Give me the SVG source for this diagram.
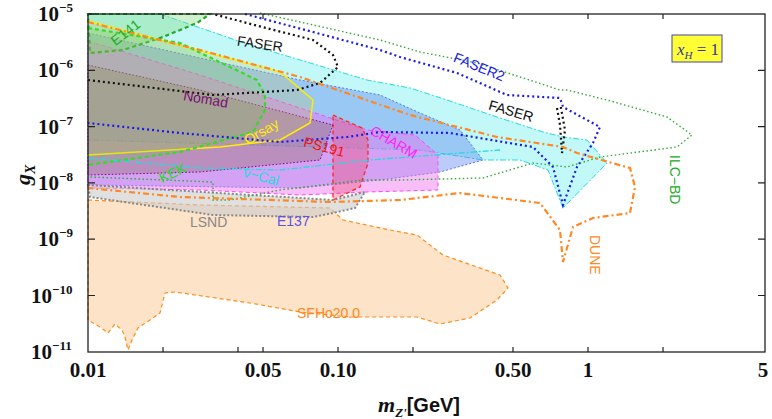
<svg xmlns="http://www.w3.org/2000/svg" width="772" height="419" viewBox="0 0 772 419">
<style>
.tk{font-family:"Liberation Serif",serif;font-weight:bold;font-size:21px;fill:#111}
.sp{font-size:13px}
.lb{font-family:"Liberation Sans",Arial,sans-serif;font-size:14px}
.ln{fill:none;stroke-width:2.2}
.dot{stroke-dasharray:2 3}
.dash{stroke-dasharray:5 3}
.dd{stroke-dasharray:6 3 2 3}
</style>
<rect width="772" height="419" fill="#fff"/>
<g id="regions">
<path id="sfho" d="M88,200 L200,205 330,208 343,220 390,230 417,235 443,255 500,275 508,288 497,300 470,318 440,324 417,317 350,317 300,312 250,303 175,292 165,293 160,313 150,320 138,328 132,340 128,350 125,337 122,330 115,324 108,333 100,327 88,320 Z" fill="#fde3c8" stroke="#ff8c1a" stroke-width="1.2" stroke-dasharray="4 3"/>
<path id="cyan" d="M88,14 L160,14 250,45 367,80 410,88 447,100 497,117 543,132 563,137 587,140 607,163 563,208 548,170 520,160 483,160 420,150 88,140 Z" fill="#aef5f5" fill-opacity="0.75" stroke="#22dddd" stroke-width="1" stroke-dasharray="6 2 2 2"/>
<path id="blue" d="M88,33 L200,58 300,80 380,95 420,113 460,130 483,160 440,172 380,180 300,188 88,185 Z" fill="#6a8ff0" fill-opacity="0.45" stroke="#5577ee" stroke-width="1" stroke-dasharray="2 2"/>
<path id="charm" d="M88,41 L200,75 300,108 367,130 415,135 438,155 438,190 367,192 300,195 200,190 88,188 Z" fill="#f06ef0" fill-opacity="0.45" stroke="#ff44ff" stroke-width="1" stroke-dasharray="4 3"/>
<path id="ps191" d="M333,115 L362,128 368,140 368,163 360,187 333,200 Z" fill="#ee4466" fill-opacity="0.35" stroke="#ff2222" stroke-width="1.3" stroke-dasharray="4 3"/>
<path id="lsnd" d="M88,185 L333,200 365,192 355,208 333,213 313,217 213,215 90,197 Z" fill="#cccccc" fill-opacity="0.6" stroke="#888" stroke-width="2" stroke-dasharray="2 2"/>
<path id="nomad" d="M88,65 L200,90 333,125 320,160 200,172 88,175 Z" fill="#806040" fill-opacity="0.3" stroke="#880088" stroke-width="1" stroke-dasharray="1.5 2"/>
<path id="e141" d="M88,14 L210,14 197,23 163,37 123,50 90,53 Z" fill="#88dd88" fill-opacity="0.4" stroke="#22aa22" stroke-width="2.2" stroke-dasharray="4 3"/>
<path id="orsay" d="M88,21 L280,72 313,100 310,123 280,140 220,147 88,155" fill="#c8c060" fill-opacity="0.25" stroke="#ffee00" stroke-width="1.5"/>
<path id="kek" d="M88,28 L180,43 257,80 265,95 265,110 253,132 180,152 88,165" fill="#66cc44" fill-opacity="0.18" stroke="#33dd22" stroke-width="2.2" stroke-dasharray="4 3"/>
</g>
<g id="connectors">
<path id="faser-top" class="ln dot" stroke="#111" d="M88,80 L213,95 297,90 320,83 338,67 333,55 313,40 247,23 213,14"/>
<path id="faser-bot" class="ln dot" stroke="#111" stroke-width="1.6" d="M557,108 L560,125 562,153 565,130 561,108 Z"/>
<path id="faser2" class="ln dot" stroke="#1a1ae6" d="M245,14 L313,32 380,50 400,57 457,73 507,95 560,98 563,107 600,127 593,143 577,167 563,205 553,167 533,147 450,133 380,132 347,137 280,142 180,133 88,123"/>
<path id="ilc" fill="none" stroke="#33aa33" stroke-width="1.4" stroke-dasharray="1.5 2.5" d="M260,13 L300,22 380,40 420,52 477,63 560,90 567,90 607,100 667,117 692,135 677,147 600,157 567,167 533,163 483,178 400,180 363,180 280,190 230,200 213,200 213,182 90,177"/>
<path id="dune" class="ln dd" stroke="#ff8822" d="M88,22 L200,50 300,77 410,115 497,137 563,147 577,153 630,168 635,187 630,213 593,218 573,227 563,262 560,230 540,203 460,193 400,200 330,202 180,197 88,188"/>
<path id="nucal" fill="none" stroke="#22dddd" stroke-width="1.3" stroke-dasharray="6 2 2 2" d="M88,158 L200,168 280,170 370,160 500,150"/>
</g>
<g id="frame" fill="none" stroke="#222">
<rect x="88" y="14" width="677" height="338" stroke-width="1.3"/>
<path stroke-width="1.2" d="M88,14.0h7M88,70.3h7M88,126.6h7M88,182.9h7M88,239.2h7M88,295.5h7M765,70.3h-7M765,126.6h-7M765,182.9h-7M765,239.2h-7M765,295.5h-7M163,352v-5M238,352v-5M263,352v-5M338,352v-5M413,352v-5M513,352v-5M588,352v-5M663,352v-5M163,14v5M263,14v5M338,14v5M513,14v5M588,14v5M663,14v5"/>
</g>
<g id="labels">
<text class="lb" x="110" y="40" fill="#22aa22" transform="rotate(-38 122 35)">E141</text>
<text class="lb" x="237" y="49" fill="#111" transform="rotate(8 262 44)">FASER</text>
<text class="lb" x="452" y="72" fill="#1a1ae6" transform="rotate(22 480 68)">FASER2</text>
<text class="lb" x="488" y="117" fill="#111" transform="rotate(16 515 112)">FASER</text>
<text class="lb" x="183" y="104" fill="#7a0a7a" transform="rotate(10 206 100)">Nomad</text>
<text class="lb" x="242" y="136" fill="#ffee00" transform="rotate(-30 262 130)">Orsay</text>
<text class="lb" x="303" y="152" fill="#ee1111" transform="rotate(15 325 148)">PS191</text>
<text class="lb" x="368" y="146" fill="#ff22ff" transform="rotate(30 392 142)">CHARM</text>
<text class="lb" x="158" y="178" fill="#22dd22" transform="rotate(-25 172 172)">KEK</text>
<text class="lb" x="243" y="181" fill="#22dddd" transform="rotate(15 260 177)">ν−Cal</text>
<text class="lb" x="277" y="226" fill="#5555ee">E137</text>
<text class="lb" x="190" y="227" fill="#888" font-size="11">LSND</text>
<text class="lb" x="297" y="318" fill="#ff8822" font-size="13">SFHo20.0</text>
<text class="lb" x="583" y="238" fill="#ff8822" transform="rotate(90 588 240)">DUNE</text>
<text class="lb" x="665" y="160" fill="#22aa22" transform="rotate(90 670 160)">ILC−BD</text>
<rect x="672" y="35" width="50" height="27" fill="#ffff33" stroke="#4444aa" stroke-width="1"/>
<text x="677" y="55" font-family="Liberation Serif,serif" font-size="17" fill="#3333aa"><tspan font-style="italic">x</tspan><tspan font-style="italic" font-size="11" dy="4">H</tspan><tspan dy="-4"> = 1</tspan></text>
</g>
<g id="ticklabels" class="tk">
<text x="38" y="21">10<tspan class="sp" dy="-9">−5</tspan></text>
<text x="38" y="77">10<tspan class="sp" dy="-9">−6</tspan></text>
<text x="38" y="134">10<tspan class="sp" dy="-9">−7</tspan></text>
<text x="38" y="190">10<tspan class="sp" dy="-9">−8</tspan></text>
<text x="38" y="246">10<tspan class="sp" dy="-9">−9</tspan></text>
<text x="31" y="303">10<tspan class="sp" dy="-9">−10</tspan></text>
<text x="31" y="359">10<tspan class="sp" dy="-9">−11</tspan></text>
<g text-anchor="middle">
<text x="88" y="377">0.01</text><text x="263" y="377">0.05</text><text x="338" y="377">0.10</text><text x="513" y="377">0.50</text><text x="588" y="377">1</text><text x="763" y="377">5</text>
</g>
<text x="20" y="195" font-style="italic" font-size="22" transform="rotate(-90 20 185)">g<tspan font-size="14" dy="5">X</tspan></text>
<text x="378" y="412" font-size="22"><tspan font-style="italic">m</tspan><tspan font-style="italic" font-size="13" dy="5">Z'</tspan><tspan dy="-5" font-family="Liberation Sans,sans-serif" font-size="20">[GeV]</tspan></text>
</g>
</svg>
